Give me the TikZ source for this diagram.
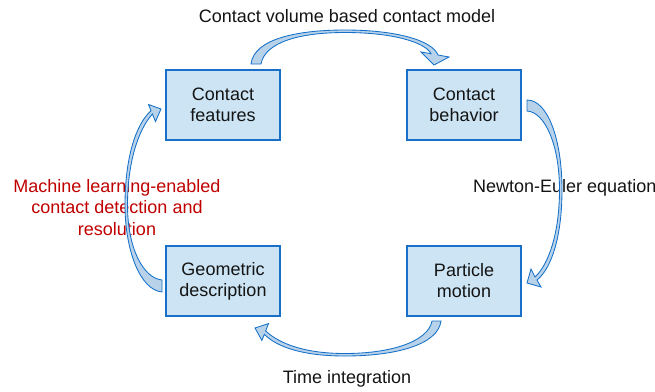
\documentclass[tikz,border=0pt]{standalone}
\usepackage{fontspec}
\setmainfont{Liberation Sans}
\definecolor{boxfill}{RGB}{204,228,243}
\definecolor{boxline}{RGB}{24,112,200}
\definecolor{arrowfill}{RGB}{184,210,234}
\definecolor{arrowline}{RGB}{20,112,200}
\definecolor{labelred}{RGB}{192,0,0}
\definecolor{ink}{RGB}{20,20,20}
\begin{document}
\begin{tikzpicture}[x=1pt,y=-1pt,
  stage/.style={draw=boxline, line width=2.2pt, fill=boxfill, minimum width=114pt,
    minimum height=70pt, align=center, inner sep=0pt, text=ink,
    font=\fontsize{18}{21}\selectfont},
  lbl/.style={inner sep=0pt, text=ink, font=\fontsize{18}{21}\selectfont},
  curvedarrow/.style={draw=arrowline, line width=0.85pt, fill=arrowfill, line join=miter}]
\useasboundingbox (0,0) rectangle (655,391);

% the four stages of the cycle
\node[stage] (feat) at (223,105) {Contact\\features};
\node[stage] (behav) at (464,105) {Contact\\behavior};
\node[stage] (geom) at (223,281) {Geometric\\description};
\node[stage] (motion) at (464,281) {Particle\\motion};

% labels of the transitions
\node[lbl, anchor=base] (ltop) at (347,22) {Contact volume based contact model};
\node[lbl, anchor=base west] (lright) at (473,192) {Newton-Euler equation};
\node[lbl, anchor=base] (lbottom) at (347,383) {Time integration};
\node[lbl, text=labelred, align=center, anchor=north] (lleft) at (117,179)
  {Machine learning-enabled\\[0.5pt]contact detection and\\[0.5pt]resolution};

% curved block arrows between the stages
\draw[curvedarrow] (251,64) .. controls (254,38) and (300,30) .. (345,30)
  .. controls (395,30) and (432,40) .. (438,55)
  -- (449,57) -- (434,65) -- (421,52) -- (431,53.7)
  .. controls (425,42) and (392,32.5) .. (345,32.5)
  .. controls (300,32.5) and (265,42) .. (261,64) -- cycle;

\draw[curvedarrow] (527,100) .. controls (548,100) and (562,140) .. (562,190)
  .. controls (562,235) and (552,268) .. (537,280)
  -- (541,287) -- (527,283) -- (531,269) -- (535,277)
  .. controls (549,264) and (559.5,232) .. (559.5,190)
  .. controls (559.5,145) and (545,112) .. (527,111) -- cycle;

\draw[curvedarrow] (441,321) .. controls (438,345) and (395,356) .. (345,356)
  .. controls (305,356) and (278,348) .. (264.3,334.3)
  -- (261.9,340.4) -- (255,328) -- (268.5,323.6) -- (265.6,331)
  .. controls (280,344) and (305,353.5) .. (345,353.5)
  .. controls (390,353.5) and (428,342) .. (432,321) -- cycle;

\draw[curvedarrow] (162,292) .. controls (140,290) and (125,250) .. (125,205)
  .. controls (125,160) and (135,125) .. (151,110.7)
  -- (148.5,104.5) -- (161,109) -- (155.5,121.5) -- (152.4,114)
  .. controls (138,130) and (127.5,163) .. (127.5,205)
  .. controls (127.5,248) and (143,278) .. (162,280) -- cycle;
\end{tikzpicture}
\end{document}
